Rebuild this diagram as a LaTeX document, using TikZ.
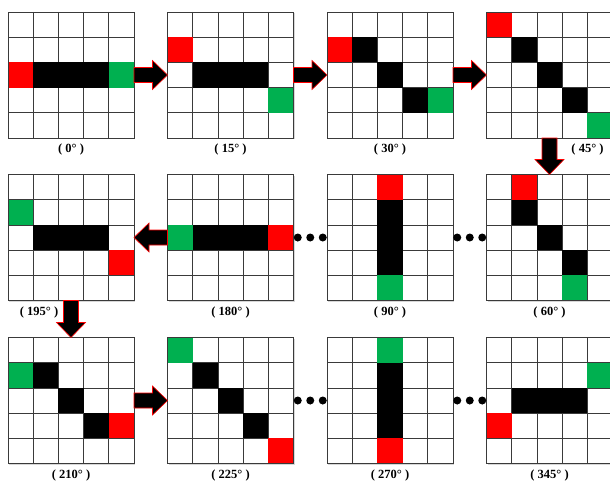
\documentclass[tikz,border=0pt]{standalone}
\usepackage{fontspec}
\setmainfont{Liberation Serif}
\usepackage{tikz}
\usetikzlibrary{calc,positioning,shadows}
\definecolor{cellred}{HTML}{FF0000}
\definecolor{cellgreen}{HTML}{00B050}
\definecolor{gridc}{HTML}{3A3A3A}

\newcommand{\cellat}[4]{%
  \fill[#4] ($(#1.north west)+(#3*25.2,-#2*25.2-25.2)$) rectangle +(25.2,25.2);}
\newcommand{\blockarrow}[2]{%
  \filldraw[barrow] let \p1=(#1), \p2=(#2), \n1={atan2(\y2-\y1,\x2-\x1)}, \n2={veclen(\x2-\x1,\y2-\y1)-15pt} in
    ($(\p1)+(\n1+90:7.5pt)$) -- ($(\p1)+(\n1:\n2)+(\n1+90:7.5pt)$) -- ($(\p1)+(\n1:\n2)+(\n1+90:14.5pt)$) -- (\p2)
    -- ($(\p1)+(\n1:\n2)+(\n1-90:14.5pt)$) -- ($(\p1)+(\n1:\n2)+(\n1-90:7.5pt)$) -- ($(\p1)+(\n1-90:7.5pt)$) -- cycle;}

\begin{document}
\begin{tikzpicture}[x=1pt,y=1pt,
  pix/.style={rectangle,minimum size=126pt,inner sep=0pt,outer sep=0pt,fill=white,
    drop shadow={shadow xshift=1.2pt,shadow yshift=-1.2pt,opacity=0.35,fill=black!45}},
  lab/.style={font=\bfseries\fontsize{12.5}{14}\selectfont,inner sep=1pt},
  gline/.style={draw=gridc,line width=0.8pt},
  barrow/.style={fill=black,draw=cellred,line width=0.6pt,line join=miter}]
\useasboundingbox (0,0) rectangle (610,483);
% top row
\node[pix] (g0) at (71,408) {};
\node[pix] (g15) at (230.5,408) {};
\node[pix] (g30) at (390,408) {};
\node[pix] (g45) at (549.5,408) {};
% middle row
\node[pix] (g195) at (71,245.5) {};
\node[pix] (g180) at (230.5,245.5) {};
\node[pix] (g90) at (390,245.5) {};
\node[pix] (g60) at (549.5,245.5) {};
% bottom row
\node[pix] (g210) at (71,82.5) {};
\node[pix] (g225) at (230.5,82.5) {};
\node[pix] (g270) at (390,82.5) {};
\node[pix] (g345) at (549.5,82.5) {};

\foreach \g in {g0,g15,g30,g45,g195,g180,g90,g60,g210,g225,g270,g345}{
  \foreach \i in {1,2,3,4}{
    \draw[gline] ($(\g.north west)+(\i*25.2,0)$) -- ++(0,-126);
    \draw[gline] ($(\g.north west)+(0,-\i*25.2)$) -- ++(126,0);}}

\foreach \r/\c/\k in {2/0/cellred,2/1/black,2/2/black,2/3/black,2/4/cellgreen} \cellat{g0}{\r}{\c}{\k};
\foreach \r/\c/\k in {1/0/cellred,2/1/black,2/2/black,2/3/black,3/4/cellgreen} \cellat{g15}{\r}{\c}{\k};
\foreach \r/\c/\k in {1/0/cellred,1/1/black,2/2/black,3/3/black,3/4/cellgreen} \cellat{g30}{\r}{\c}{\k};
\foreach \r/\c/\k in {0/0/cellred,1/1/black,2/2/black,3/3/black,4/4/cellgreen} \cellat{g45}{\r}{\c}{\k};
\foreach \r/\c/\k in {1/0/cellgreen,2/1/black,2/2/black,2/3/black,3/4/cellred} \cellat{g195}{\r}{\c}{\k};
\foreach \r/\c/\k in {2/0/cellgreen,2/1/black,2/2/black,2/3/black,2/4/cellred} \cellat{g180}{\r}{\c}{\k};
\foreach \r/\c/\k in {0/2/cellred,1/2/black,2/2/black,3/2/black,4/2/cellgreen} \cellat{g90}{\r}{\c}{\k};
\foreach \r/\c/\k in {0/1/cellred,1/1/black,2/2/black,3/3/black,4/3/cellgreen} \cellat{g60}{\r}{\c}{\k};
\foreach \r/\c/\k in {1/0/cellgreen,1/1/black,2/2/black,3/3/black,3/4/cellred} \cellat{g210}{\r}{\c}{\k};
\foreach \r/\c/\k in {0/0/cellgreen,1/1/black,2/2/black,3/3/black,4/4/cellred} \cellat{g225}{\r}{\c}{\k};
\foreach \r/\c/\k in {0/2/cellgreen,1/2/black,2/2/black,3/2/black,4/2/cellred} \cellat{g270}{\r}{\c}{\k};
\foreach \r/\c/\k in {3/0/cellred,2/1/black,2/2/black,2/3/black,1/4/cellgreen} \cellat{g345}{\r}{\c}{\k};

\foreach \g in {g0,g15,g30,g45,g195,g180,g90,g60,g210,g225,g270,g345}
  \draw[gline] (\g.south west) rectangle (\g.north east);

\node[lab,below=5pt of g0] (l0) {( 0° )};
\node[lab,below=5pt of g15] (l15) {( 15° )};
\node[lab,below=5pt of g30] (l30) {( 30° )};
\node[lab,below=5pt of g45,xshift=38pt] (l45) {( 45° )};
\node[lab,below=5pt of g195,xshift=-32pt] (l195) {( 195° )};
\node[lab,below=5pt of g180] (l180) {( 180° )};
\node[lab,below=5pt of g90] (l90) {( 90° )};
\node[lab,below=5pt of g60] (l60) {( 60° )};
\node[lab,below=5pt of g210] (l210) {( 210° )};
\node[lab,below=5pt of g225] (l225) {( 225° )};
\node[lab,below=5pt of g270] (l270) {( 270° )};
\node[lab,below=5pt of g345] (l345) {( 345° )};

\blockarrow{g0.east}{g15.west}
\blockarrow{g15.east}{g30.west}
\blockarrow{g30.east}{g45.west}
\blockarrow{g45.south}{g60.north}
\blockarrow{g180.west}{g195.east}
\blockarrow{g195.south}{g210.north}
\blockarrow{g210.east}{g225.west}

\foreach \a/\b in {g180/g90,g90/g60,g225/g270,g270/g345}
  \foreach \d in {-12.5,0,12.5}
    \fill ($(\a.east)!0.5!(\b.west)+(\d,0)$) circle (4);
\end{tikzpicture}
\end{document}
